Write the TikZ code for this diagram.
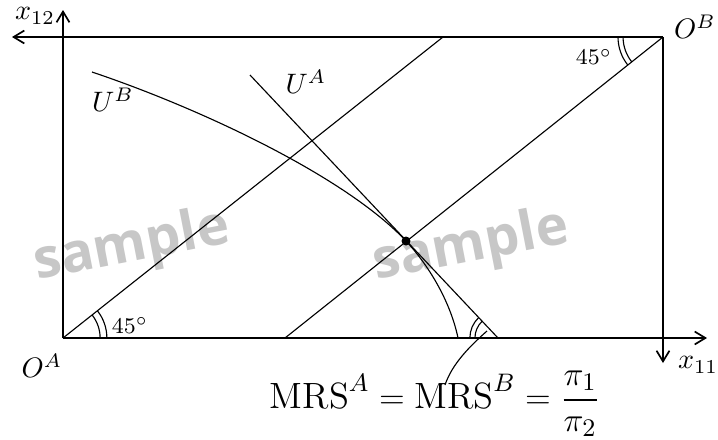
\documentclass[tikz,border=0pt]{standalone}
\usepackage{amsmath}
\usepackage{fontspec}
\newfontfamily\markfont{Open Sans}
\usetikzlibrary{positioning, arrows.meta}
\tikzset{
    box axis/.style={-{Straight Barb[length=3.8pt, width=4.6pt]}, semithick},
    box line/.style={thin},
    angle mark/.style={thin},
    corner label/.style={inner sep=1pt},
    angle label/.style={font=\footnotesize, inner sep=1pt},
    watermark/.style={font=\markfont\bfseries\fontsize{19.5}{19.5}\selectfont,
        text=black!22, rotate=11},
}

\begin{document}
\begin{tikzpicture}[x=0.0125cm, y=-0.0125cm]
  \useasboundingbox (0,0) rectangle (718,439);
  % watermarks
  \node[watermark] (wm1) at (132,247) {sample};
  \node[watermark] (wm2) at (471,247) {sample};
  % corners of the box
  \coordinate (oa) at (63,338);
  \coordinate (ob) at (663,37);
  \coordinate (xtwelve) at (63,10);
  \coordinate (xtop) at (12,37);
  \coordinate (xeleven) at (707,338);
  \coordinate (xdown) at (663,363);
  \draw[box axis] (oa) -- (xtwelve);
  \draw[box axis] (oa) -- (xeleven);
  \draw[box axis] (ob) -- (xtop);
  \draw[box axis] (ob) -- (xdown);
  \node[corner label] (lx12) at (35,16) {$x_{12}$};
  \node[corner label] (lx11) at (698,365) {$x_{11}$};
  \node[corner label] (loa) at (42,366) {$O^A$};
  \node[corner label] (lob) at (695,27) {$O^B$};
  % diagonals
  \coordinate (oatop) at (443,37);
  \coordinate (obbottom) at (285,338);
  \draw[box line] (oa) -- (oatop);
  \draw[box line] (ob) -- (obbottom);
  % utility curves
  \coordinate (ua start) at (250,75);
  \coordinate (ua end) at (498,338);
  \coordinate (ub start) at (92,72);
  \coordinate (ub end) at (458,338);
  \node[circle, fill, inner sep=0pt, minimum size=3.2pt] (eq) at (406,241) {};
  \draw[box line] (ua start) -- (ua end);
  \draw[box line] (ub start) .. controls (202,109) and (346,177) .. (eq.center)
      .. controls (431,268) and (451,304) .. (ub end);
  \node[corner label] (lua) at (306,82) {$U^A$};
  \node[corner label] (lub) at (113,100) {$U^B$};
  % angle marks
  \draw[angle mark] ([shift={(0:13.2pt)}]oa) arc[start angle=0, end angle=38.4, radius=13.2pt];
  \draw[angle mark] ([shift={(0:15.6pt)}]oa) arc[start angle=0, end angle=38.4, radius=15.6pt];
  \node[angle label] (la45) at (130,325) {$45^\circ$};
  \draw[angle mark] ([shift={(180:14.2pt)}]ob) arc[start angle=180, end angle=218.5, radius=14.2pt];
  \draw[angle mark] ([shift={(180:16pt)}]ob) arc[start angle=180, end angle=218.5, radius=16pt];
  \node[angle label] (lb45) at (594,57) {$45^\circ$};
  \draw[angle mark] ([shift={(133.3:8.2pt)}]ua end) arc[start angle=133.3, end angle=180, radius=8.2pt];
  \draw[angle mark] ([shift={(133.3:10pt)}]ua end) arc[start angle=133.3, end angle=180, radius=10pt];
  % slope label
  \node[font=\fontsize{13}{15}\selectfont, inner sep=1pt] (mrs) at (435,404)
      {$\mathrm{MRS}^A = \mathrm{MRS}^B = \dfrac{\pi_1}{\pi_2}$};
  \coordinate (mrs mark) at (487,331);
  \coordinate (mrs pin) at (445,385);
  \draw[box line] (mrs mark) .. controls (470,346) and (452,364) .. (mrs pin);
\end{tikzpicture}
\end{document}
